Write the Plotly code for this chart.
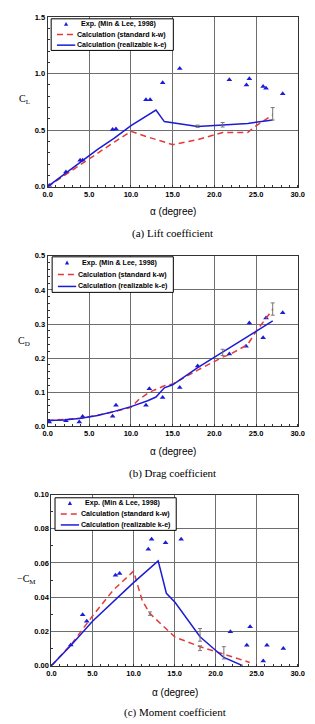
import plotly.graph_objects as go

W, H = 315, 724

# ---------------- data ----------------
# (a) Lift
lift_exp_x = [0.2, 2.2, 3.9, 4.2, 7.8, 8.2, 11.8, 12.3, 13.8, 15.85, 21.8, 23.85, 24.2, 25.85, 26.2, 28.2]
lift_exp_y = [0.01, 0.13, 0.233, 0.235, 0.506, 0.51, 0.77, 0.77, 0.92, 1.045, 0.945, 0.90, 0.955, 0.887, 0.87, 0.823]
lift_kw_x = [0, 2, 4, 6, 8, 10, 12, 15, 18, 21, 24, 25, 27]
lift_kw_y = [0, 0.1, 0.2, 0.3, 0.395, 0.49, 0.44, 0.372, 0.416, 0.48, 0.48, 0.538, 0.634]
lift_ke_x = [0, 2, 4, 6, 8, 10, 13, 14, 18, 21, 24, 27]
lift_ke_y = [0, 0.11, 0.22, 0.33, 0.43, 0.54, 0.678, 0.576, 0.532, 0.545, 0.56, 0.59]
lift_err_x = [18, 21, 27]
lift_err_y = [0.535, 0.548, 0.645]
lift_err_v = [0.01, 0.02, 0.055]

# (b) Drag
drag_exp_x = [0.2, 2.2, 3.8, 4.2, 7.8, 8.2, 11.8, 12.2, 13.8, 15.85, 18.0, 21.8, 23.8, 24.2, 25.85, 26.2, 28.2]
drag_exp_y = [0.013, 0.0165, 0.013, 0.029, 0.030, 0.062, 0.062, 0.11, 0.085, 0.114, 0.177, 0.212, 0.235, 0.303, 0.26, 0.318, 0.333]
drag_kw_x = [0, 4, 6, 8, 10, 11, 12.2, 14, 15, 18, 21, 21.8, 24, 25, 27]
drag_kw_y = [0.017, 0.024, 0.033, 0.043, 0.056, 0.08, 0.10, 0.119, 0.124, 0.165, 0.203, 0.21, 0.24, 0.278, 0.343]
drag_ke_x = [0, 2, 4, 6, 8, 10, 12, 13, 14, 15, 18, 21, 24, 27]
drag_ke_y = [0.017, 0.019, 0.024, 0.032, 0.044, 0.058, 0.075, 0.086, 0.113, 0.122, 0.172, 0.218, 0.262, 0.309]
drag_err_x = [21, 27]
drag_err_y = [0.217, 0.344]
drag_err_v = [0.009, 0.018]

# (c) Moment
mom_exp_x = [2.35, 3.8, 4.3, 7.8, 8.3, 11.8, 12.2, 13.9, 15.8, 21.8, 23.8, 24.2, 25.8, 26.25, 28.25]
mom_exp_y = [0.0121, 0.0298, 0.026, 0.0529, 0.0539, 0.068, 0.0739, 0.0718, 0.0739, 0.0198, 0.0119, 0.0227, 0.0027, 0.0119, 0.010]
mom_kw_x = [0, 2.5, 5, 7.5, 10, 11.06, 12, 15.05, 18.1, 21, 24.15]
mom_kw_y = [0, 0.013, 0.029, 0.044, 0.0552, 0.038, 0.0304, 0.0167, 0.0111, 0.0067, 0.0019]
mom_ke_x = [0, 2.5, 5, 10, 13, 14, 15.05, 18.1, 21, 23.3]
mom_ke_y = [0, 0.0125, 0.026, 0.0485, 0.0612, 0.0423, 0.037, 0.0169, 0.0048, 0.0]
mom_err_x = [18.1, 18.1, 21, 12]
mom_err_y = [0.018, 0.0102, 0.0075, 0.0304]
mom_err_v = [0.0037, 0.0014, 0.0036, 0.001]

x_ticks = [0, 5, 10, 15, 20, 25, 30]
x_tick_labels = ["0.0", "5.0", "10.0", "15.0", "20.0", "25.0", "30.0"]

captions = ["(a) Lift coefficient", "(b) Drag coefficient", "(c) Moment coefficient"]
names = ["Exp. (Min & Lee, 1998)", "Calculation (standard k-w)", "Calculation (realizable k-e)"]

# ---------------- styling ----------------
BLUE = "#1c1cd6"
RED = "#e23a3a"
GRID = "#6e6e6e"
SANS = "Liberation Sans, Arial, sans-serif"
SERIF = "Liberation Serif, Times New Roman, serif"

def px2x(p):
    return p / W

def py2y(p):
    return 1 - p / H

panels = [
    dict(xd=[44.3, 304.3], yd=[13.3, 185.0], yr=[0, 1.5], dt=0.5, fmt=".1f", minor=0.1,
         leg=(48, 15, 175, 47), ylab="C<sub>L</sub>", ylab_pos=(20, 97),
         data=(lift_exp_x, lift_exp_y, lift_kw_x, lift_kw_y, lift_ke_x, lift_ke_y,
               lift_err_x, lift_err_y, lift_err_v),
         tickx_y=196, title_y=210, cap_y=232),
    dict(xd=[44.3, 304.3], yd=[255.0, 427.7], yr=[0, 0.5], dt=0.1, fmt=".1f", minor=0.02,
         leg=(49, 256, 175, 292), ylab="C<sub>D</sub>", ylab_pos=(20, 342),
         data=(drag_exp_x, drag_exp_y, drag_kw_x, drag_kw_y, drag_ke_x, drag_ke_y,
               drag_err_x, drag_err_y, drag_err_v),
         tickx_y=439, title_y=453, cap_y=475),
    dict(xd=[48.3, 304.3], yd=[496.7, 670.0], yr=[0, 0.10], dt=0.02, fmt=".2f", minor=0.01,
         leg=(52, 500, 178, 533), ylab="\u2212C<sub>M</sub>", ylab_pos=(22, 583),
         data=(mom_exp_x, mom_exp_y, mom_kw_x, mom_kw_y, mom_ke_x, mom_ke_y,
               mom_err_x, mom_err_y, mom_err_v),
         tickx_y=681, title_y=697, cap_y=717),
]

fig = go.Figure()
layout = dict(
    width=W, height=H, margin=dict(l=0, r=0, t=0, b=0),
    paper_bgcolor="white", plot_bgcolor="white",
    font=dict(family=SANS, color="black"),
    showlegend=False,
    annotations=[], shapes=[],
)

for i, p in enumerate(panels):
    n = "" if i == 0 else str(i + 1)
    xa, ya = "x" + n, "y" + n
    ex, ey, kx, ky, rx, ry, erx, ery, erv = p["data"]
    fig.add_trace(go.Scatter(x=ex, y=ey, mode="markers", name=names[0], xaxis=xa, yaxis=ya,
                             marker=dict(symbol="triangle-up", size=5, color=BLUE)))
    fig.add_trace(go.Scatter(x=kx, y=ky, mode="lines", name=names[1], xaxis=xa, yaxis=ya,
                             line=dict(color=RED, width=1.5, dash="6px,4px")))
    fig.add_trace(go.Scatter(x=rx, y=ry, mode="lines", name=names[2], xaxis=xa, yaxis=ya,
                             line=dict(color=BLUE, width=1.5)))
    fig.add_trace(go.Scatter(x=erx, y=ery, mode="markers", xaxis=xa, yaxis=ya,
                             marker=dict(size=1, color="#666"),
                             error_y=dict(type="data", array=erv, visible=True, color="#777",
                                          thickness=1, width=2)))

    layout["xaxis" + n] = dict(
        domain=[px2x(p["xd"][0]), px2x(p["xd"][1])], anchor=ya, range=[0, 30],
        tickvals=x_ticks, ticktext=x_tick_labels, ticks="", showgrid=True,
        gridcolor=GRID, gridwidth=1, showline=True, linecolor="#333", linewidth=1,
        mirror=True, zeroline=False,
        tickfont=dict(size=7.5, family=SANS, weight="bold"),
        minor=dict(dtick=1, ticks="inside", ticklen=2, tickcolor="#333", showgrid=False),
    )
    layout["yaxis" + n] = dict(
        domain=[py2y(p["yd"][1]), py2y(p["yd"][0])], anchor=xa, range=p["yr"],
        dtick=p["dt"], tick0=0, tickformat=p["fmt"], ticks="", showgrid=True,
        gridcolor=GRID, gridwidth=1, showline=True, linecolor="#333", linewidth=1,
        mirror=True, zeroline=False,
        tickfont=dict(size=7.5, family=SANS, weight="bold"),
        minor=dict(dtick=p["minor"], ticks="inside", ticklen=2, tickcolor="#333", showgrid=False),
    )

    # ---- hand-drawn legend box (compact, like the original) ----
    lx0, ly0, lx1, ly1 = p["leg"]
    layout["shapes"].append(dict(type="rect", xref="paper", yref="paper",
                                 x0=px2x(lx0), x1=px2x(lx1), y0=py2y(ly1), y1=py2y(ly0),
                                 line=dict(color="black", width=1), fillcolor="white", layer="above"))
    rh = (ly1 - ly0) / 3.0
    rows = [ly0 + rh * (k + 0.5) for k in range(3)]
    sx0, sx1 = lx0 + 6, lx0 + 25
    # triangle marker sample
    tx, ty = (sx0 + sx1) / 2, rows[0]
    layout["shapes"].append(dict(type="path", xref="paper", yref="paper", layer="above",
                                 path="M %f,%f L %f,%f L %f,%f Z" % (
                                     px2x(tx - 2.2), py2y(ty + 1.8), px2x(tx + 2.2), py2y(ty + 1.8),
                                     px2x(tx), py2y(ty - 2.2)),
                                 fillcolor=BLUE, line=dict(width=0)))
    layout["shapes"].append(dict(type="line", xref="paper", yref="paper", layer="above",
                                 x0=px2x(sx0), x1=px2x(sx1), y0=py2y(rows[1]), y1=py2y(rows[1]),
                                 line=dict(color=RED, width=1.5, dash="6px,4px")))
    layout["shapes"].append(dict(type="line", xref="paper", yref="paper", layer="above",
                                 x0=px2x(sx0), x1=px2x(sx1), y0=py2y(rows[2]), y1=py2y(rows[2]),
                                 line=dict(color=BLUE, width=1.5)))
    for k in range(3):
        layout["annotations"].append(dict(
            text=names[k], x=px2x(sx1 + 1 if k else sx1 + 5), y=py2y(rows[k]),
            xref="paper", yref="paper", showarrow=False, xanchor="left", yanchor="middle",
            font=dict(size=7.1, family=SANS, weight="bold"), borderpad=0))

    cx = (p["xd"][0] + p["xd"][1]) / 2
    layout["annotations"] += [
        dict(text="\u03b1 (degree)", x=px2x(cx), y=py2y(p["title_y"]), xref="paper", yref="paper",
             showarrow=False, font=dict(size=10, family=SANS), xanchor="center", yanchor="middle"),
        dict(text=captions[i], x=px2x(cx), y=py2y(p["cap_y"]), xref="paper", yref="paper",
             showarrow=False, font=dict(size=11, family=SERIF), xanchor="center", yanchor="middle"),
        dict(text=p["ylab"], x=px2x(p["ylab_pos"][0]), y=py2y(p["ylab_pos"][1]), xref="paper",
             yref="paper", showarrow=False, font=dict(size=10, family=SERIF),
             xanchor="center", yanchor="middle"),
    ]

fig.update_layout(**layout)
fig.write_html("out.html")
